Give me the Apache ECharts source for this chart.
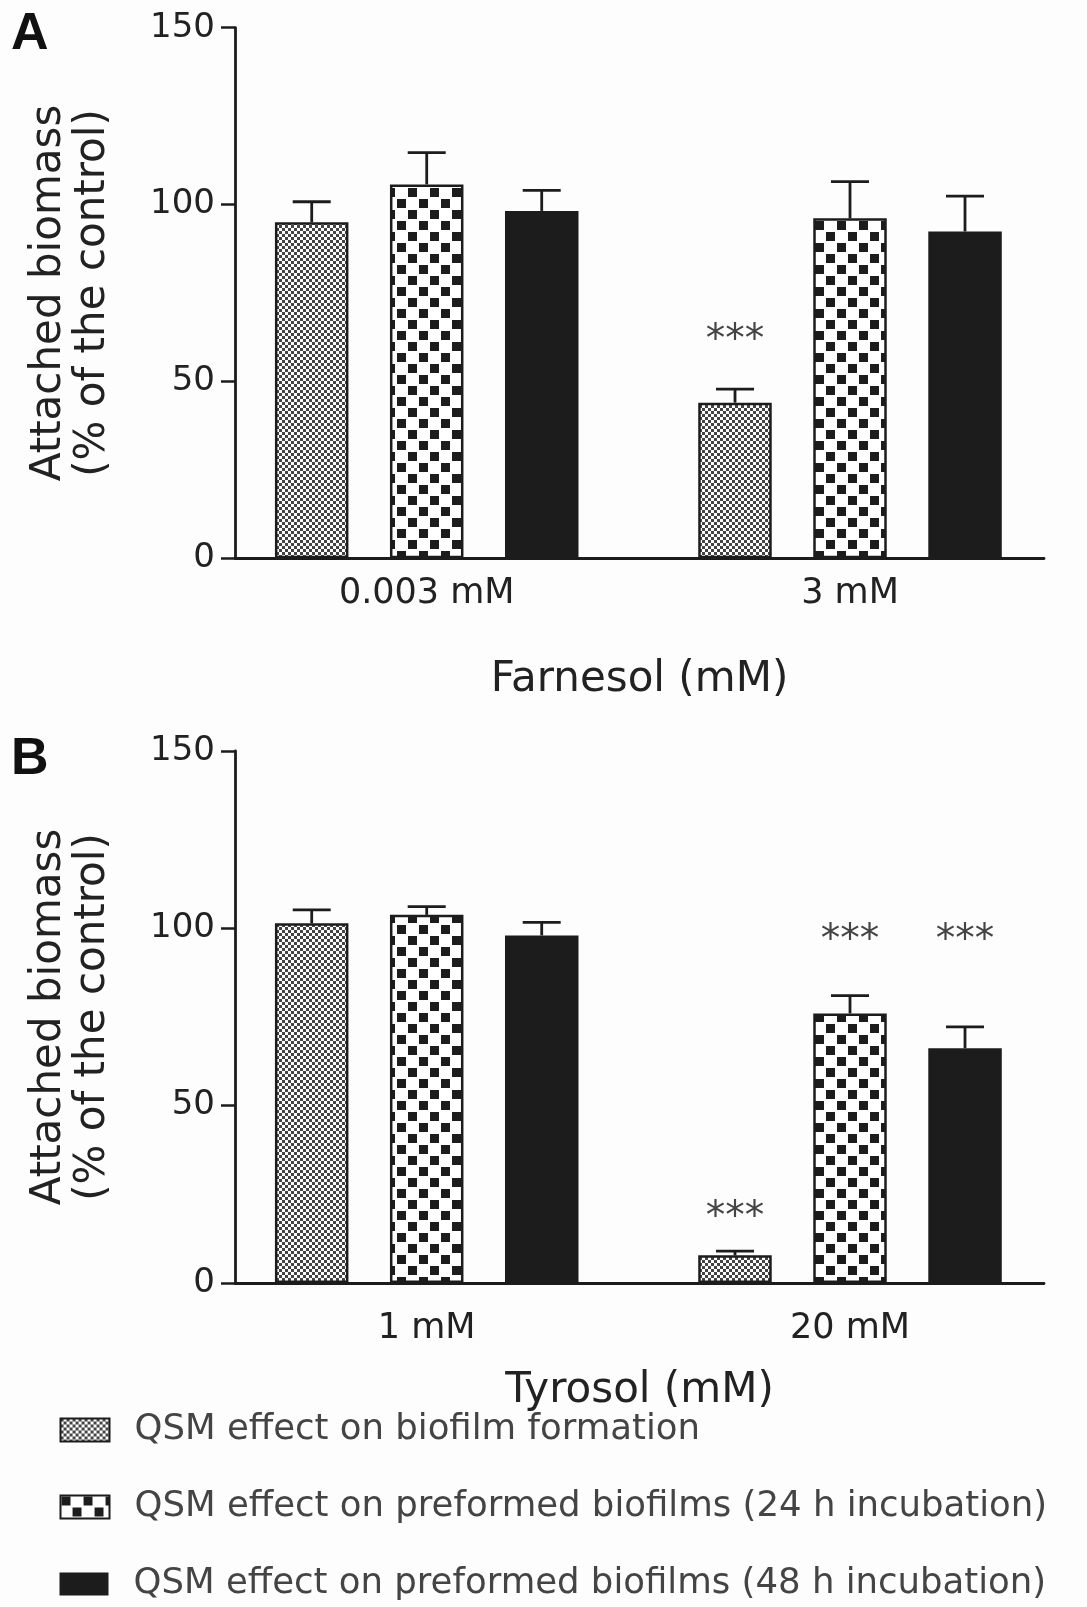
<!DOCTYPE html>
<html><head><meta charset="utf-8">
<script src="https://cdn.jsdelivr.net/npm/echarts@6/dist/echarts.min.js"></script>
<style>html,body{margin:0;padding:0;background:#fdfdfd}#c{width:1087px;height:1607px}</style>
</head><body><div id="c"></div><script>
// ---- data ----
const seriesNames = ['QSM effect on biofilm formation','QSM effect on preformed biofilms (24 h incubation)','QSM effect on preformed biofilms (48 h incubation)'];
const catsA = ['0.003 mM','3 mM'];
const catsB = ['1 mM','20 mM'];
const yTicks = [0, 50, 100, 150];
// Panel A (Farnesol)
const formationA = [95.0, 44.0];
const pre24A = [105.7, 96.1];
const pre48A = [98.2, 92.4];
const formationErrA = [5.8, 3.8];
const pre24ErrA = [9.0, 10.4];
const pre48ErrA = [5.8, 10.0];
const formationSigA = [null, 63.7];
const pre24SigA = [null, null];
const pre48SigA = [null, null];
// Panel B (Tyrosol)
const formationB = [101.4, 7.8];
const pre24B = [103.8, 76.0];
const pre48B = [98.0, 66.2];
const formationErrB = [3.8, 1.2];
const pre24ErrB = [2.3, 5.0];
const pre48ErrB = [3.7, 6.0];
const formationSigB = [null, 20.5];
const pre24SigB = [null, 98.6];
const pre48SigB = [null, 98.6];

// ---- styling ----
const FONT = '"DejaVu Sans", sans-serif';
const INK = '#1c1c1c';
const TXT = '#222';
const BAR_W = 73.5, GAP_RATIO = 41.5/73.5;

function makePattern(kind){
  const c = document.createElement('canvas');
  const g = c.getContext('2d');
  if (kind === 'fine') {
    c.width = 6; c.height = 6;
    g.fillStyle = '#fff'; g.fillRect(0,0,6,6);
    g.fillStyle = '#444'; g.fillRect(0,0,3,3); g.fillRect(3,3,3,3);
  } else {
    c.width = 22; c.height = 22;
    g.fillStyle = '#fff'; g.fillRect(0,0,22,22);
    g.fillStyle = INK; g.fillRect(1,1,9,9); g.fillRect(12,12,9,9);
  }
  return c;
}
const styles = [
  {color:{image:makePattern('fine'), repeat:'repeat'}, borderColor:INK, borderWidth:2.5},
  {color:{image:makePattern('coarse'), repeat:'repeat'}, borderColor:INK, borderWidth:2.5},
  {color:INK, borderColor:INK, borderWidth:0}
];

const panels = [
  {cats:catsA, means:[formationA,pre24A,pre48A], errs:[formationErrA,pre24ErrA,pre48ErrA], sigs:[formationSigA,pre24SigA,pre48SigA], name:'Farnesol (mM)', nameGap:101, labelMargin:18},
  {cats:catsB, means:[formationB,pre24B,pre48B], errs:[formationErrB,pre24ErrB,pre48ErrB], sigs:[formationSigB,pre24SigB,pre48SigB], name:'Tyrosol (mM)', nameGap:87, labelMargin:28}
];

const grid = [
  {left:235, right:43, top:27.7, height:530.6},
  {left:235, right:43, top:751, height:532}
];
const X_MIN = -0.4529, X_MAX = 1.4583;

const xAxis = panels.map((p,i)=>({
  type:'value', gridIndex:i, min:X_MIN, max:X_MAX,
  axisLine:{show:true, onZero:false, lineStyle:{color:INK, width:2.8}},
  axisTick:{show:false}, splitLine:{show:false},
  axisLabel:{customValues:p.cats.map((c,k)=>k), formatter:v=>p.cats[Math.round(v)], fontSize:35, color:TXT, fontFamily:FONT, margin:p.labelMargin},
  name:p.name, nameLocation:'middle', nameGap:p.nameGap,
  nameTextStyle:{fontSize:42, color:TXT, fontFamily:FONT}
}));
const yAxis = panels.map((p,i)=>({
  type:'value', gridIndex:i, min:yTicks[0], max:yTicks[yTicks.length-1], interval:50,
  axisLine:{show:true, onZero:false, lineStyle:{color:INK, width:2.8}},
  axisTick:{show:true, length:14, lineStyle:{color:INK, width:2.5}},
  splitLine:{show:false},
  axisLabel:{fontSize:34, color:TXT, fontFamily:FONT, margin:20},
  name:'Attached biomass\n(% of the control)', nameLocation:'middle', nameGap:120, nameRotate:90,
  nameTextStyle:{fontSize:42, color:TXT, fontFamily:FONT, lineHeight:44}
}));

const series = [];
panels.forEach((p,pi)=>{
  p.means.forEach((m,si)=>{
    series.push({
      type:'bar', name:seriesNames[si], xAxisIndex:pi, yAxisIndex:pi,
      barWidth:BAR_W, barGap:(GAP_RATIO*100).toFixed(1)+'%',
      itemStyle:styles[si], emphasis:{disabled:true},
      data:p.cats.map((c,k)=>[k, m[k]])
    });
  });
  p.means.forEach((m,si)=>{
    const off = (si-1)*(BAR_W + BAR_W*GAP_RATIO);
    const sig = p.sigs[si];
    series.push({
      type:'custom', name:'err'+pi+si, xAxisIndex:pi, yAxisIndex:pi, z:5,
      data:p.cats.map((c,k)=>[k, m[k], p.errs[si][k]]),
      renderItem:(params, api)=>{
        const k = api.value(0), v = api.value(1), e = api.value(2);
        const pb = api.coord([k, v]), pt = api.coord([k, v+e]);
        const x = pb[0] + off;
        const ls = {stroke:INK, lineWidth:2.8};
        const ch = [
          {type:'line', shape:{x1:x, y1:pb[1], x2:x, y2:pt[1]}, style:ls},
          {type:'line', shape:{x1:x-19, y1:pt[1], x2:x+19, y2:pt[1]}, style:ls}
        ];
        const s = sig[params.dataIndex];
        if (s != null) {
          const ps = api.coord([k, s]);
          ch.push({type:'text', x:x, y:ps[1]+8, style:{text:'***', fontSize:39, fontFamily:FONT, fill:'#444', align:'center', verticalAlign:'middle'}});
        }
        return {type:'group', children:ch};
      }
    });
  });
});

const legend = seriesNames.map((n,i)=>({
  data:[n], orient:'vertical', left:59.5, top:1412 + i*77, padding:0, icon:'rect',
  itemWidth:49, itemHeight:23, itemGap:0, selectedMode:false,
  textStyle:{fontSize:35.5, color:'#444', fontFamily:FONT, padding:[0,0,0,20]}
}));

const chart = echarts.init(document.getElementById('c'));
chart.setOption({
  backgroundColor:'#fdfdfd',
  animation:false,
  title:[
    {text:'A', left:6, top:4, textStyle:{fontSize:52, fontWeight:'bold', color:'#111', fontFamily:'"Liberation Sans", Arial, sans-serif'}},
    {text:'B', left:6, top:729, textStyle:{fontSize:52, fontWeight:'bold', color:'#111', fontFamily:'"Liberation Sans", Arial, sans-serif'}}
  ],
  grid, xAxis, yAxis, series, legend
});
</script></body></html>
